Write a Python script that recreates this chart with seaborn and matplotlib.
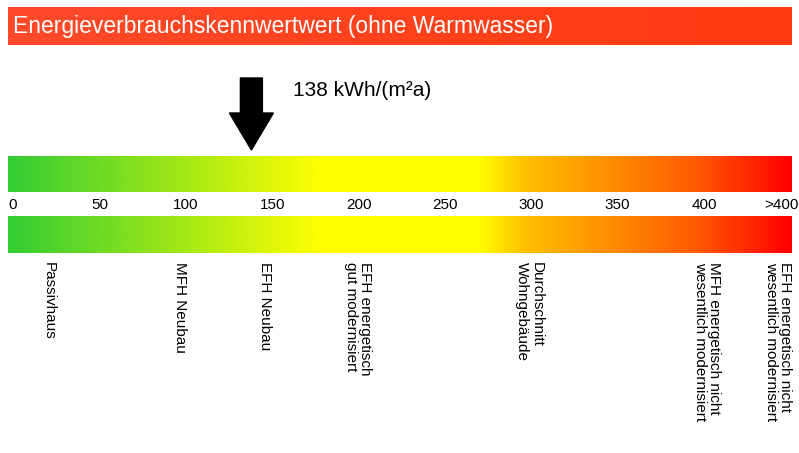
import numpy as np
import matplotlib
matplotlib.use("Agg")
import matplotlib.pyplot as plt
from matplotlib.colors import LinearSegmentedColormap
import seaborn as sns

sns.set_theme(style="white")
plt.rcParams['font.family'] = ['Liberation Sans', 'DejaVu Sans']

title = "Energieverbrauchskennwertwert (ohne Warmwasser)"
value = 138
value_label = "138 kWh/(m²a)"
ticks = [0, 50, 100, 150, 200, 250, 300, 350, 400, 445]
tick_labels = ["0", "50", "100", "150", "200", "250", "300", "350", "400", ">400"]
ref_pos = [25, 101, 150, 208, 307, 410, 451]
ref_labels = ["Passivhaus", "MFH Neubau", "EFH Neubau",
              "EFH energetisch\ngut modernisiert", "Durchschnitt\nWohngebäude",
              "MFH energetisch nicht\nwesentlich modernisiert",
              "EFH energetisch nicht\nwesentlich modernisiert"]

scale = 1.7275  # px per unit
x0 = 13
fig = plt.figure(figsize=(7.99, 4.53), dpi=100)
ax = fig.add_axes([0, 0, 1, 1])
ax.set_xlim(-x0 / scale, (799 - x0) / scale)
ax.set_ylim(453, 0)
ax.axis('off')

left, right = (8 - x0) / scale, (791 - x0) / scale
cmap = LinearSegmentedColormap.from_list("e", [
    (0.0, "#33cc33"), (0.40, "#ffff00"), (0.60, "#ffff00"),
    (0.66, "#ffc000"), (0.88, "#ff5a00"), (1.0, "#ff0000")])
grad = np.linspace(0, 1, 512)[None, :]
for y0, y1 in [(156, 192), (216, 253)]:
    ax.imshow(grad, cmap=cmap, aspect='auto', extent=[left, right, y1, y0], interpolation='bilinear')

tcmap = LinearSegmentedColormap.from_list("t", ["#ff4a2a", "#ff3a10"])
ax.imshow(grad, cmap=tcmap, aspect='auto', extent=[left, right, 45, 7])
ax.text(left + 5 / scale, 27, title, color='white', fontsize=16.5, va='center', ha='left')

# arrow
hw, sw = 22 / scale, 11 / scale
ax.fill([value - sw, value + sw, value + sw, value + hw, value, value - hw, value - sw],
        [78, 78, 113, 113, 150, 113, 113], color='black')
ax.text(value + 24, 90, value_label, fontsize=15, va='center', ha='left', color='black')

for t, l in zip(ticks, tick_labels):
    ax.text(t, 205, l, fontsize=11, ha='center', va='center', color='black')

for p, l in zip(ref_pos, ref_labels):
    ax.text(p, 262, l, rotation=270, rotation_mode='anchor', ha='left', va='top',
            fontsize=11, color='black', linespacing=1.0)

fig.savefig("out.png", dpi=100)
